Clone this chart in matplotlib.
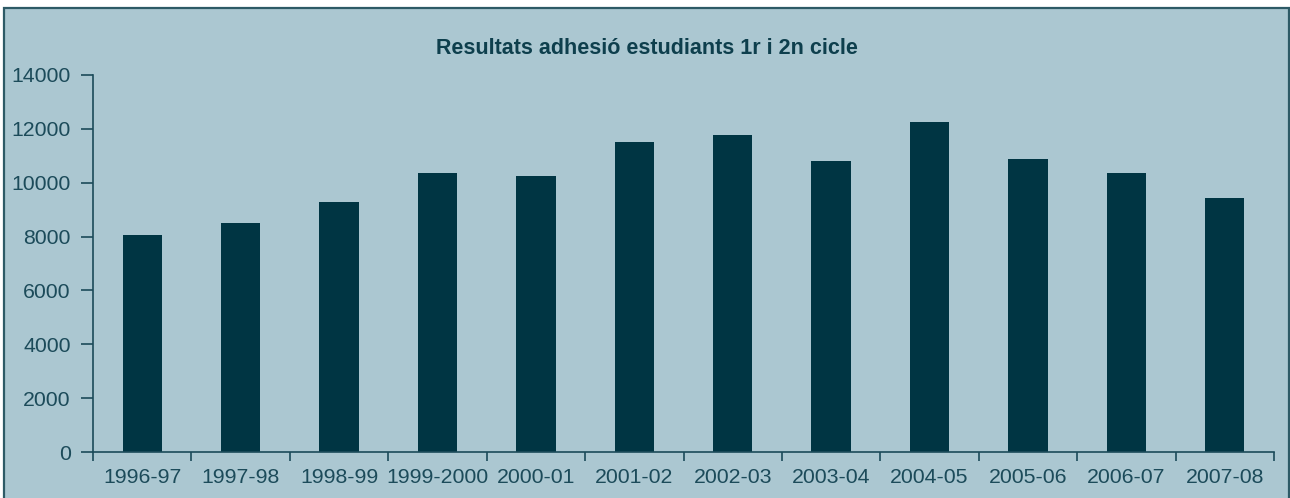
import matplotlib.pyplot as plt
from matplotlib.patches import Rectangle

plt.rcParams['font.family'] = ['Liberation Sans', 'DejaVu Sans']

cursos = ['1996-97', '1997-98', '1998-99', '1999-2000', '2000-01', '2001-02',
          '2002-03', '2003-04', '2004-05', '2005-06', '2006-07', '2007-08']
estudiants = [8050, 8500, 9280, 10360, 10250, 11510,
              11770, 10800, 12250, 10880, 10360, 9430]

bg = '#abc7d1'
bar_col = '#003543'
txt = '#1c4b5a'

fig = plt.figure(figsize=(12.9, 4.98), dpi=100)
fig.patch.set_facecolor('white')

# panel background, border on top/left/right (bottom runs off the image)
fig.patches.append(Rectangle((4 / 1290, -0.02), (1288.5 - 4) / 1290, (498 - 8) / 498 + 0.02,
                             transform=fig.transFigure, facecolor=bg,
                             edgecolor='#2d5a66', linewidth=1.6, zorder=-1))

ax = fig.add_axes([93 / 1290, (498 - 452) / 498, (1274 - 93) / 1290, (452 - 75) / 498])
ax.set_facecolor('none')

x = range(len(cursos))
ax.bar(x, estudiants, width=0.4, color=bar_col)

ax.set_xlim(-0.5, len(cursos) - 0.5)
ax.set_ylim(0, 14000)
ax.set_yticks(range(0, 14001, 2000))
ax.set_xticks(x)
ax.set_xticklabels(cursos)
ax.set_xticks([i - 0.5 for i in range(len(cursos) + 1)], minor=True)
ax.tick_params(axis='x', which='major', length=0, pad=11.5, labelsize=15.3, labelcolor=txt)
ax.tick_params(axis='x', which='minor', length=6.5, direction='out', color=txt, width=1.2)
ax.tick_params(axis='y', length=9, color=txt, width=1.2, pad=7, labelsize=15.3, labelcolor=txt)

for s in ['top', 'right']:
    ax.spines[s].set_visible(False)
for s in ['left', 'bottom']:
    ax.spines[s].set_color(txt)
    ax.spines[s].set_linewidth(1.2)

fig.text(647 / 1290, 1 - 49 / 498, 'Resultats adhesió estudiants 1r i 2n cicle',
         ha='center', va='center', fontsize=15.5, fontweight='bold', color='#0e3f4d')

fig.savefig('out.png', dpi=100)
